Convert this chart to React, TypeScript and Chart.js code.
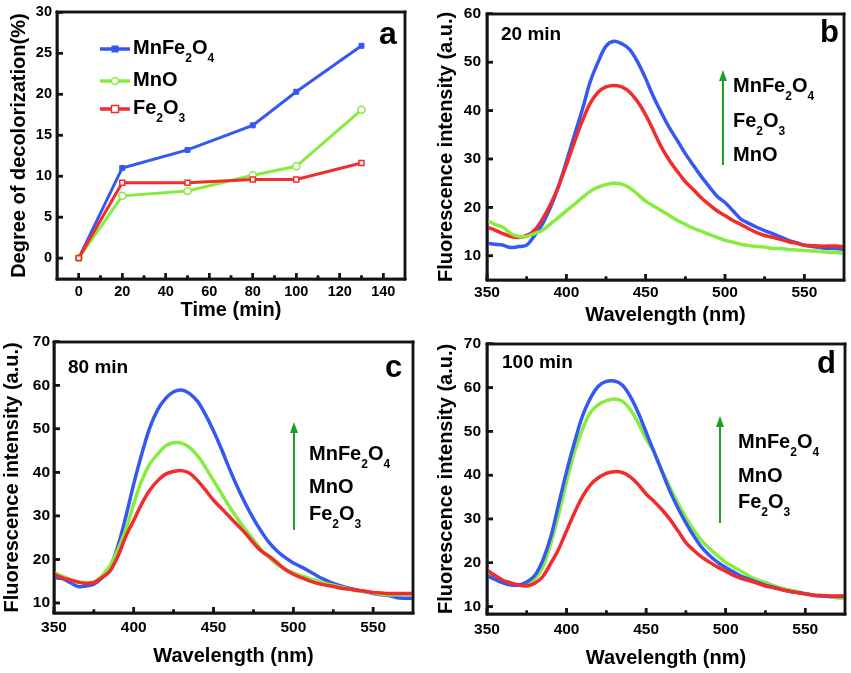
import { useEffect, useRef } from "react";
import { Chart, registerables } from "chart.js";

Chart.register(...registerables);

const FONT = '"Liberation Sans", Arial, Helvetica, sans-serif';
const BLUE = "#3658f2";
const RED = "#f22c2c";
const GREEN = "#86ec3e";
const ARROW = "#1f9e1f";
const INK = "#141414";

// ---------- Panel a : degree of decolorization ----------
const timeMin = [0, 20, 50, 80, 100, 130];
const degMnFe2O4 = [0, 11.0, 13.2, 16.2, 20.3, 25.9];
const degMnO = [0, 7.6, 8.2, 10.1, 11.2, 18.1];
const degFe2O3 = [0, 9.2, 9.2, 9.6, 9.6, 11.6];
const timeTicks = [0, 20, 40, 60, 80, 100, 120, 140];
const timeMinorTicks = [10, 30, 50, 70, 90, 110, 130];
const degTicks = [0, 5, 10, 15, 20, 25, 30];

// ---------- Spectra ----------
const wavelength = [
  350, 355, 360, 365, 370, 375, 380, 385, 390, 395, 400, 405, 410, 415, 420, 425,
  430, 435, 440, 445, 450, 455, 460, 465, 470, 475, 480, 485, 490, 495, 500, 505,
  510, 515, 520, 525, 530, 535, 540, 545, 550, 555, 560, 565, 570, 575,
];
const wlTicks = [350, 400, 450, 500, 550];
const wlMinorTicks = [375, 425, 475, 525];
const intTicksB = [10, 20, 30, 40, 50, 60];
const intTicksCD = [10, 20, 30, 40, 50, 60, 70];

// b: 20 min
const b_MnFe2O4 = [12.6, 12.4, 12.2, 11.7, 11.9, 12.2, 14.2, 16.6, 20, 24.3, 29.4, 34.8, 40.1, 45.9, 50, 53.3, 54.3, 53.8, 52.6, 50, 46.6, 42.8, 39.5, 36.4, 33.8, 31.1, 28.7, 26.4, 24.3, 22.3, 21, 19.3, 17.6, 16.7, 15.9, 15.2, 14.6, 13.9, 13.2, 12.7, 12.2, 11.9, 11.7, 11.5, 11.5, 11.3];
const b_Fe2O3 = [15.9, 15.3, 14.6, 14.0, 13.8, 14.2, 15.3, 17.6, 20.6, 24.3, 28.7, 33.4, 37.8, 41.5, 43.8, 44.9, 45.2, 44.9, 43.8, 41.8, 39.1, 35.8, 32.4, 29.7, 27.4, 25.3, 23.7, 22, 20.6, 19.3, 18.3, 17.3, 16.5, 15.6, 14.8, 14.2, 13.8, 13.4, 12.9, 12.6, 12.2, 12.1, 12, 12, 12, 11.9];
const b_MnO = [17.3, 16.5, 15.9, 14.6, 14.0, 14, 14.6, 15.3, 16.6, 17.9, 19.3, 20.6, 22, 23.3, 24.2, 24.7, 25, 24.8, 24, 22.7, 21.3, 20.3, 19.3, 18.3, 17.3, 16.5, 15.7, 15.1, 14.4, 13.8, 13.2, 12.8, 12.4, 12.1, 11.9, 11.8, 11.5, 11.5, 11.3, 11.2, 11.1, 11.0, 10.9, 10.7, 10.7, 10.5];

// c: 80 min
const c_MnFe2O4 = [15.8, 15.6, 14.7, 13.8, 13.9, 14.3, 15.8, 18.1, 23, 29.8, 37.4, 44.2, 50.2, 54.4, 57, 58.5, 58.9, 58.1, 56.3, 53.2, 49.5, 45.3, 40.8, 36.6, 32.8, 29.4, 26.4, 23.8, 21.9, 20.4, 19.2, 18.3, 17.3, 16.2, 15.3, 14.5, 13.9, 13.4, 13, 12.6, 12.2, 11.9, 11.7, 11.2, 11.1, 11.1];
const c_MnO = [17, 16.2, 15.4, 14.8, 14.7, 14.8, 16.2, 18.5, 22.2, 26.8, 32.8, 38.1, 41.9, 44.2, 46.1, 46.8, 46.7, 45.7, 43.8, 41.1, 38.1, 35.1, 32.1, 29.4, 26.8, 24.5, 22.2, 20.4, 18.8, 17.7, 17, 16.2, 15.6, 15.1, 14.5, 14.1, 13.6, 13.2, 12.8, 12.6, 12.3, 12, 11.9, 11.9, 12, 12];
const c_Fe2O3 = [16.6, 15.8, 15.3, 14.8, 14.5, 14.7, 15.8, 17.3, 20.7, 25.3, 29, 32.8, 35.9, 38.1, 39.6, 40.2, 40.4, 39.8, 38.1, 35.9, 33.6, 31.7, 29.8, 27.9, 26, 23.8, 21.9, 20.7, 19.2, 17.7, 16.6, 15.8, 15.1, 14.5, 14.1, 13.8, 13.4, 13.2, 12.9, 12.7, 12.4, 12.3, 12.2, 12.2, 12.2, 12.2];

// d: 100 min
const d_MnFe2O4 = [17.1, 16.2, 15.4, 14.9, 14.9, 15.6, 17.1, 20.5, 25.8, 33.3, 40.8, 47.5, 53.5, 57.6, 60.3, 61.4, 61.5, 60.6, 58, 54.3, 49.8, 45.3, 40.8, 36.3, 32.5, 29.1, 26.1, 23.5, 21.6, 20.1, 18.9, 17.9, 16.9, 16.2, 15.5, 14.9, 14.4, 13.9, 13.5, 13.2, 12.9, 12.6, 12.4, 12.3, 12.3, 12.3];
const d_MnO = [17.9, 16.8, 15.9, 15.3, 14.9, 14.9, 16.2, 19, 24.3, 31, 38.5, 45.3, 50.5, 54.3, 56.1, 57, 57.4, 56.9, 55, 52, 48.3, 45.3, 41, 37.2, 33.6, 30.3, 27.5, 25, 23.2, 21.6, 20.1, 19, 18, 16.9, 16.1, 15.5, 14.8, 14.2, 13.8, 13.4, 13, 12.6, 12.5, 12.3, 12, 11.9];
const d_Fe2O3 = [18.3, 17.1, 16, 15.4, 14.9, 14.7, 15.3, 16.8, 19.8, 23.1, 27.3, 31.4, 35.1, 37.8, 39.4, 40.4, 40.8, 40.6, 39.6, 37.9, 35.7, 34, 32.1, 29.9, 27.3, 24.6, 22.8, 21.3, 20.1, 19, 18.1, 17.1, 16.4, 15.9, 15.3, 14.7, 14.3, 13.9, 13.5, 13.2, 12.9, 12.6, 12.5, 12.4, 12.4, 12.4];

// ---------- helpers ----------
function drawRich(ctx: CanvasRenderingContext2D, text: string, x: number, y: number, size: number) {
  const parts = text.split(/(_\d)/).filter((p) => p.length > 0);
  let cx = x;
  ctx.textAlign = "left";
  ctx.textBaseline = "alphabetic";
  ctx.fillStyle = "#000";
  for (const p of parts) {
    if (p.charAt(0) === "_") {
      const s = p.slice(1);
      ctx.font = `bold ${Math.round(size * 0.6)}px ${FONT}`;
      ctx.fillText(s, cx, y + size * 0.4);
      cx += ctx.measureText(s).width;
    } else {
      ctx.font = `bold ${size}px ${FONT}`;
      ctx.fillText(p, cx, y);
      cx += ctx.measureText(p).width;
    }
  }
}

function drawText(ctx: CanvasRenderingContext2D, text: string, x: number, y: number, size: number) {
  ctx.font = `bold ${size}px ${FONT}`;
  ctx.fillStyle = "#000";
  ctx.textAlign = "left";
  ctx.textBaseline = "alphabetic";
  ctx.fillText(text, x, y);
}

function drawArrow(ctx: CanvasRenderingContext2D, x: number, tip: number, bottom: number) {
  ctx.strokeStyle = ARROW;
  ctx.fillStyle = ARROW;
  ctx.lineWidth = 2;
  ctx.beginPath();
  ctx.moveTo(x, bottom);
  ctx.lineTo(x, tip + 8);
  ctx.stroke();
  ctx.beginPath();
  ctx.moveTo(x, tip);
  ctx.lineTo(x - 4, tip + 11);
  ctx.lineTo(x + 4, tip + 11);
  ctx.closePath();
  ctx.fill();
}

function drawFrame(c: any, minorX: number[]) {
  const ctx: CanvasRenderingContext2D = c.ctx;
  const xs = c.scales.x;
  const ys = c.scales.y;
  const left = Math.round(ys.right);
  const right = Math.round(xs.right);
  const top = Math.round(ys.top);
  const bottom = Math.round(xs.top);
  const w = 2.5;
  ctx.save();
  ctx.fillStyle = INK;
  ctx.fillRect(left - w / 2, top - w / 2, right - left + w, w);
  ctx.fillRect(left - w / 2, bottom - w / 2, right - left + w, w);
  ctx.fillRect(left - w / 2, top - w / 2, w, bottom - top + w);
  ctx.fillRect(right - w / 2, top - w / 2, w, bottom - top + w);
  for (let i = 0; i < xs.ticks.length; i++) {
    const px = xs.getPixelForValue(xs.ticks[i].value);
    ctx.fillRect(px - 1.25, bottom - 6, 2.5, 6);
  }
  for (let i = 0; i < minorX.length; i++) {
    const px = xs.getPixelForValue(minorX[i]);
    ctx.fillRect(px - 1.25, bottom - 3.5, 2.5, 3.5);
  }
  for (let i = 0; i < ys.ticks.length; i++) {
    const py = ys.getPixelForValue(ys.ticks[i].value);
    ctx.fillRect(left, py - 1.25, 6, 2.5);
  }
  ctx.restore();
}

function makeFramePlugin(minorX: number[], annotate: (ctx: CanvasRenderingContext2D) => void) {
  return {
    id: "frameNotes",
    beforeDatasetsDraw(c: any) {
      drawFrame(c, minorX);
    },
    afterDraw(c: any) {
      const ctx: CanvasRenderingContext2D = c.ctx;
      ctx.save();
      annotate(ctx);
      ctx.restore();
      drawFrame(c, minorX);
    },
  };
}

type AxisOpts = {
  min: number;
  max: number;
  ticks: number[];
  tickSize: number;
  tickPad: number;
  title: string;
  titlePad: any;
  fit: (s: any) => void;
};

function axis(o: AxisOpts) {
  return {
    type: "linear",
    min: o.min,
    max: o.max,
    afterBuildTicks: (s: any) => {
      s.ticks = o.ticks.map((v) => ({ value: v }));
    },
    afterFit: o.fit,
    grid: { display: false, drawTicks: false },
    border: { display: true, color: INK, width: 2.5 },
    ticks: {
      color: "#000",
      autoSkip: false,
      maxRotation: 0,
      padding: o.tickPad,
      font: { family: FONT, size: o.tickSize, weight: "bold", lineHeight: 1 },
    },
    title: {
      display: true,
      text: o.title,
      color: "#000",
      padding: o.titlePad,
      font: { family: FONT, size: 20, weight: "bold", lineHeight: 1.2 },
    },
  };
}

function lineSet(label: string, xs: number[], ys: number[], color: string, extra: any = {}) {
  return {
    label,
    data: xs.map((x, i) => ({ x, y: ys[i] })),
    borderColor: color,
    backgroundColor: color,
    borderWidth: 3.5,
    pointRadius: 0,
    tension: 0.35,
    ...extra,
  };
}

type Layout = {
  top: number;
  right: number;
  yW: number;
  xH: number;
  xTickPad: number;
  yTickPad: number;
  xTitlePad: number;
  yTitlePad: number;
};

function baseOptions(L: Layout, x: any, y: any) {
  return {
    responsive: false,
    animation: false,
    events: [],
    layout: { padding: { top: L.top, right: L.right, left: 0, bottom: 0 } },
    plugins: { legend: { display: false }, tooltip: { enabled: false } },
    scales: { x, y },
  };
}

function configA() {
  const L: Layout = { top: 11, right: 20, yW: 57, xH: 51, xTickPad: 6, yTickPad: 5, xTitlePad: 8, yTitlePad: 7 };
  const x = axis({
    min: -10, max: 150, ticks: timeTicks, tickSize: 14.5, tickPad: L.xTickPad,
    title: "Time (min)", titlePad: { top: 0, bottom: L.xTitlePad },
    fit: (s) => { s.height = L.xH; },
  });
  const y = axis({
    min: -2.55, max: 30, ticks: degTicks, tickSize: 14.5, tickPad: L.yTickPad,
    title: "Degree of decolorization(%)", titlePad: { top: L.yTitlePad, bottom: 0 },
    fit: (s) => { s.width = L.yW; },
  });
  const annotate = (ctx: CanvasRenderingContext2D) => {
    drawText(ctx, "a", 379, 44, 32);
    const rows = [
      { y: 49, color: BLUE, text: "MnFe_2O_4", style: "sq" },
      { y: 81, color: GREEN, text: "MnO", style: "circ" },
      { y: 109, color: RED, text: "Fe_2O_3", style: "osq" },
    ];
    rows.forEach((r) => {
      ctx.strokeStyle = r.color;
      ctx.lineWidth = 3.5;
      ctx.beginPath();
      ctx.moveTo(100, r.y);
      ctx.lineTo(130, r.y);
      ctx.stroke();
      ctx.lineWidth = 1.5;
      if (r.style === "sq") {
        ctx.fillStyle = r.color;
        ctx.fillRect(115 - 3.5, r.y - 3.5, 7, 7);
      } else if (r.style === "circ") {
        ctx.fillStyle = "#fff";
        ctx.beginPath();
        ctx.arc(115, r.y, 3.5, 0, Math.PI * 2);
        ctx.fill();
        ctx.stroke();
      } else {
        ctx.fillStyle = "#fff";
        ctx.fillRect(115 - 3.5, r.y - 3.5, 7, 7);
        ctx.strokeRect(115 - 3.5, r.y - 3.5, 7, 7);
      }
      drawRich(ctx, r.text, 133, r.y + 5, 20);
    });
  };
  return {
    type: "line",
    data: {
      datasets: [
        lineSet("Fe2O3", timeMin, degFe2O3, RED, {
          borderWidth: 3, tension: 0, pointStyle: "rect", pointRadius: 3.5,
          pointBackgroundColor: "#fff", pointBorderColor: RED, pointBorderWidth: 1.5,
        }),
        lineSet("MnO", timeMin, degMnO, GREEN, {
          borderWidth: 3, tension: 0, pointStyle: "circle", pointRadius: 3.5,
          pointBackgroundColor: "#fff", pointBorderColor: GREEN, pointBorderWidth: 1.5,
        }),
        lineSet("MnFe2O4", timeMin, degMnFe2O4, BLUE, {
          borderWidth: 3, tension: 0, pointStyle: "rect", pointRadius: 3.5,
          pointBackgroundColor: BLUE, pointBorderColor: BLUE, pointBorderWidth: 1,
        }),
      ],
    },
    options: baseOptions(L, x, y),
    plugins: [makeFramePlugin(timeMinorTicks, annotate)],
  };
}

function spectraConfig(
  L: Layout,
  yMin: number,
  yMax: number,
  yTicks: number[],
  datasets: any[],
  annotate: (ctx: CanvasRenderingContext2D) => void
) {
  const x = axis({
    min: 350, max: 575, ticks: wlTicks, tickSize: 15.5, tickPad: L.xTickPad,
    title: "Wavelength (nm)", titlePad: { top: 0, bottom: L.xTitlePad },
    fit: (s) => { s.height = L.xH; },
  });
  const y = axis({
    min: yMin, max: yMax, ticks: yTicks, tickSize: 15.5, tickPad: L.yTickPad,
    title: "Fluorescence intensity (a.u.)", titlePad: { top: L.yTitlePad, bottom: 0 },
    fit: (s) => { s.width = L.yW; },
  });
  return {
    type: "line",
    data: { datasets },
    options: baseOptions(L, x, y),
    plugins: [makeFramePlugin(wlMinorTicks, annotate)],
  };
}

function configB() {
  const L: Layout = { top: 8, right: 7, yW: 62, xH: 50, xTickPad: 5, yTickPad: 6, xTitlePad: 3, yTitlePad: 9 };
  return spectraConfig(
    L, 5, 60, intTicksB,
    [
      lineSet("MnO", wavelength, b_MnO, GREEN),
      lineSet("Fe2O3", wavelength, b_Fe2O3, RED),
      lineSet("MnFe2O4", wavelength, b_MnFe2O4, BLUE),
    ],
    (ctx) => {
      drawText(ctx, "20 min", 76, 40, 19);
      drawText(ctx, "b", 395, 42, 31);
      drawArrow(ctx, 298, 70, 165);
      drawRich(ctx, "MnFe_2O_4", 308, 92, 20);
      drawRich(ctx, "Fe_2O_3", 308, 127, 20);
      drawRich(ctx, "MnO", 308, 161, 20);
    }
  );
}

function configC() {
  const L: Layout = { top: 9, right: 12, yW: 54, xH: 60, xTickPad: 7, yTickPad: 4, xTitlePad: 5, yTitlePad: 0 };
  return spectraConfig(
    L, 7.7, 70, intTicksCD,
    [
      lineSet("Fe2O3", wavelength, c_Fe2O3, RED),
      lineSet("MnO", wavelength, c_MnO, GREEN),
      lineSet("MnFe2O4", wavelength, c_MnFe2O4, BLUE),
    ],
    (ctx) => {
      drawText(ctx, "80 min", 68, 43, 19);
      drawText(ctx, "c", 385, 47, 31);
      drawArrow(ctx, 294, 92, 200);
      drawRich(ctx, "MnFe_2O_4", 309, 130, 20);
      drawRich(ctx, "MnO", 309, 163, 20);
      drawRich(ctx, "Fe_2O_3", 309, 190, 20);
    }
  );
}

function configD() {
  const L: Layout = { top: 10, right: 6, yW: 62, xH: 59, xTickPad: 8, yTickPad: 6, xTitlePad: 3, yTitlePad: 9 };
  return spectraConfig(
    L, 8.3, 70, intTicksCD,
    [
      lineSet("Fe2O3", wavelength, d_Fe2O3, RED),
      lineSet("MnFe2O4", wavelength, d_MnFe2O4, BLUE),
      lineSet("MnO", wavelength, d_MnO, GREEN),
    ],
    (ctx) => {
      drawText(ctx, "100 min", 77, 38, 19);
      drawText(ctx, "d", 392, 43, 31);
      drawArrow(ctx, 295, 86, 193);
      drawRich(ctx, "MnFe_2O_4", 313, 118, 20);
      drawRich(ctx, "MnO", 313, 152, 20);
      drawRich(ctx, "Fe_2O_3", 313, 178, 20);
    }
  );
}

function Panel(props: { make: () => any; left: number; top: number; width: number; height: number }) {
  const ref = useRef<HTMLCanvasElement>(null);
  useEffect(() => {
    const chart = new Chart(ref.current as HTMLCanvasElement, props.make());
    return () => chart.destroy();
  }, []);
  return (
    <canvas
      ref={ref}
      width={props.width}
      height={props.height}
      style={{ position: "absolute", left: props.left, top: props.top }}
    />
  );
}

export default function App() {
  return (
    <div style={{ position: "absolute", left: 0, top: 0, width: 851, height: 673, background: "#fff", overflow: "hidden" }}>
      <Panel make={configA} left={0} top={0} width={425} height={330} />
      <Panel make={configB} left={425} top={0} width={426} height={330} />
      <Panel make={configC} left={0} top={330} width={425} height={343} />
      <Panel make={configD} left={425} top={330} width={426} height={343} />
    </div>
  );
}
